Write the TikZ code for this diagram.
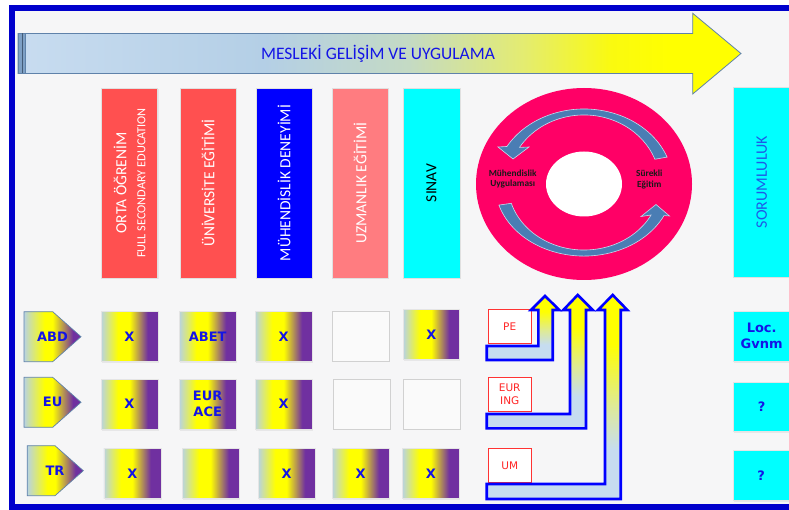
\documentclass[tikz,border=0pt]{standalone}
\usepackage{fontspec}
\setmainfont{Carlito}
\newfontfamily\dvs{DejaVu Sans}
\usetikzlibrary{shapes.geometric,shadows}

\definecolor{framec}{RGB}{0,0,204}
\definecolor{bgc}{RGB}{246,246,247}
\definecolor{ba0}{RGB}{200,220,240}
\definecolor{ba1}{RGB}{180,207,230}
\definecolor{ba2}{RGB}{196,218,196}
\definecolor{ba3}{RGB}{228,236,112}
\definecolor{ba4}{RGB}{250,250,16}
\definecolor{yel}{RGB}{255,255,0}
\definecolor{gl}{RGB}{185,211,224}
\definecolor{gp}{RGB}{112,48,160}
\definecolor{la0}{RGB}{198,220,240}
\definecolor{lam}{RGB}{222,234,150}
\definecolor{redbox}{RGB}{255,80,80}
\definecolor{pinkbox}{RGB}{255,124,128}
\definecolor{cyanc}{RGB}{0,255,255}
\definecolor{donutc}{RGB}{255,0,102}
\definecolor{bandc}{RGB}{74,125,180}
\definecolor{bandedge}{RGB}{200,216,236}
\definecolor{txtblue}{RGB}{20,20,230}
\definecolor{sorc}{RGB}{30,90,230}
\definecolor{arrowedge}{RGB}{95,130,170}
\definecolor{capc}{RGB}{126,160,197}

\pgfdeclarehorizontalshading{bigarrowsh}{100bp}{color(0bp)=(ba0); color(25bp)=(ba0); color(42bp)=(ba1); color(52bp)=(ba2); color(60bp)=(ba3); color(66bp)=(ba4); color(70bp)=(yel); color(100bp)=(yel)}
\pgfdeclarehorizontalshading{cellsh}{100bp}{color(0bp)=(gl); color(25bp)=(gl); color(40bp)=(yel); color(50bp)=(yel); color(66bp)=(gp); color(100bp)=(gp)}
\pgfdeclarehorizontalshading{tagsh}{100bp}{color(0bp)=(gl); color(25bp)=(gl); color(43bp)=(yel); color(50bp)=(yel); color(68bp)=(gp); color(100bp)=(gp)}
\pgfdeclareverticalshading{larrowsh}{100bp}{color(0bp)=(la0); color(25bp)=(la0); color(37bp)=(la0); color(48bp)=(lam); color(63bp)=(yel); color(100bp)=(yel)}

\tikzset{
  shd/.style={drop shadow={opacity=.12,shadow xshift=1pt,shadow yshift=-1.5pt}},
  vbox/.style={rectangle, rotate=90, minimum width=190pt, minimum height=56pt, inner sep=0pt,
    draw=black!12, line width=.5pt, align=center, font=\fontsize{15.5}{18}\selectfont, text=white, shd},
  xcell/.style={rectangle, minimum width=57pt, minimum height=50pt, inner sep=0pt, shade, shading=cellsh,
    draw=black!10, line width=.5pt, align=center, font=\dvs\bfseries\fontsize{13}{16}\selectfont, text=txtblue, shd},
  emptycell/.style={rectangle, minimum width=57pt, minimum height=50pt, inner sep=0pt,
    fill=white!98!black, draw=black!18, line width=.8pt},
  tagtext/.style={font=\dvs\bfseries\fontsize{13}{16}\selectfont, text=txtblue, inner sep=0pt},
  tagshape/.style={shade, shading=tagsh, draw=arrowedge, line width=.7pt},
  certbox/.style={rectangle, minimum width=42.7pt, minimum height=34pt, inner sep=0pt, fill=white,
    draw=red!80!white, line width=.8pt, align=center, text=red!85!white, font=\dvs\fontsize{10.5}{13}\selectfont},
  cyanbox/.style={rectangle, minimum width=56.7pt, minimum height=49.5pt, inner sep=0pt, fill=cyanc,
    draw=black!10, align=center, font=\dvs\bfseries\fontsize{13}{16}\selectfont, text=txtblue, shd},
  larrow/.style={shade, shading=larrowsh, draw=blue, line width=2.6pt, line join=miter},
  dlabel/.style={font=\bfseries\fontsize{9.3}{10.5}\selectfont, text=black!90, align=center, inner sep=0pt},
  band/.style={fill=bandc, draw=bandedge, line width=.6pt}
}

\begin{document}
\begin{tikzpicture}[x=1pt,y=-1pt]
\useasboundingbox (0,0) rectangle (789,510);
\clip (0,0) rectangle (789,510);
\fill[white] (0,0) rectangle (789,510);
% frame
\fill[bgc] (12,8) rectangle (830,507);
\draw[line width=6pt, framec] (12,8) rectangle (830,507);

% big arrow
\path[shade, shading=bigarrowsh, draw=arrowedge, line width=.8pt, line join=miter]
  (18,33.5) -- (692.7,33.5) -- (692.7,13.3) -- (741,53.5) -- (692.7,94) -- (692.7,73.5) -- (18,73.5) -- cycle;
\fill[capc] (18,33.5) rectangle (25,73.5);
\draw[arrowedge, line width=.8pt] (18,33.5) rectangle (25,73.5);
\draw[arrowedge!70!black, line width=.5pt] (22,33.5) -- (22,73.5);
\node[font=\fontsize{17.5}{20}\selectfont, text=txtblue] (title) at (378,53.5) {MESLEKİ GELİŞİM VE UYGULAMA};

% vertical boxes
\node[vbox, fill=redbox] (b1) at (129.7,183) {ORTA ÖĞRENİM\\[1pt]{\fontsize{12.3}{14}\selectfont FULL SECONDARY EDUCATION}};
\node[vbox, fill=redbox] (b2) at (208,183) {ÜNİVERSİTE EĞİTİMİ};
\node[vbox, fill=blue] (b3) at (284,183) {MÜHENDİSLİK DENEYİMİ};
\node[vbox, fill=pinkbox] (b4) at (360,183) {UZMANLIK EĞİTİMİ};
\node[vbox, fill=cyanc, text=black, minimum height=57pt] (b5) at (431.5,183) {SINAV};
\node[vbox, fill=cyanc, text=sorc, minimum height=56.7pt, font=\fontsize{16}{18}\selectfont] (b6) at (761.7,182) {SORUMLULUK};

% donut
\node[ellipse, minimum width=216pt, minimum height=192pt, inner sep=0pt, fill=donutc] (donut) at (584,184) {};
\node[ellipse, minimum width=76pt, minimum height=65pt, inner sep=0pt, fill=white] (hole) at (584,184) {};
\path[band] (667.1,157.1) arc[start angle=21, end angle=150, x radius=89pt, y radius=75pt]
  -- (498,147) -- (513,159) -- (529,147) -- (519.5,147.4)
  arc[start angle=148, end angle=21, x radius=76pt, y radius=69pt] -- cycle;
\path[band] (498.9,205.1) arc[start angle=197, end angle=334, x radius=89pt, y radius=72pt]
  -- (669.5,216) -- (656,204.5) -- (641,216.5) -- (651.1,215.0)
  arc[start angle=332, end angle=197, x radius=76pt, y radius=66pt] -- cycle;
\node[dlabel] (mu) at (512.7,179) {Mühendislik\\Uygulaması};
\node[dlabel] (se) at (649.3,179.5) {Sürekli\\Eğitim};

% row tags
\path[tagshape] (24,311.7) -- (52.7,311.7) -- (81,336.7) -- (52.7,361.7) -- (24,361.7) -- cycle;
\node[tagtext] (abd) at (52.5,336.7) {ABD};
\path[tagshape] (24,377.3) -- (52.7,377.3) -- (81,402.3) -- (52.7,427.3) -- (24,427.3) -- cycle;
\node[tagtext] (eu) at (52.7,402.3) {EU};
\path[tagshape] (27.3,445.7) -- (55,445.7) -- (83.3,470.7) -- (55,495.7) -- (27.3,495.7) -- cycle;
\node[tagtext] (tr) at (55,471.2) {TR};

% row ABD
\node[xcell] (a1) at (129.5,336.7) {X};
\node[xcell] (a2) at (207.7,336.7) {ABET};
\node[xcell] (a3) at (283.7,336.7) {X};
\node[emptycell] (a4) at (361,336.7) {};
\node[xcell, minimum width=56pt] (a5) at (431.3,334.3) {X};
% row EU
\node[xcell] (e1) at (129.5,404) {X};
\node[xcell] (e2) at (207.7,404) {EUR\\ACE};
\node[xcell] (e3) at (283.7,404) {X};
\node[emptycell] (e4) at (362.3,404) {};
\node[emptycell] (e5) at (431.8,404) {};
% row TR
\node[xcell] (t1) at (132.3,473.3) {X};
\node[xcell] (t2) at (210.5,473.3) {};
\node[xcell] (t3) at (286.7,473.3) {X};
\node[xcell] (t4) at (360.7,473.3) {X};
\node[xcell] (t5) at (430.8,473.3) {X};

% certificates
\node[certbox] (pe) at (509.7,326.3) {PE};
\node[certbox] (euring) at (509.7,394.5) {EUR\\ING};
\node[certbox] (um) at (509.7,465.3) {UM};

% bent arrows
\path[larrow] (486.7,346) -- (538.3,346) -- (538.3,310) -- (531,310) -- (545,296) -- (559.3,310)
  -- (552.7,310) -- (552.7,360) -- (486.7,360) -- cycle;
\path[larrow] (486.7,414) -- (570,414) -- (570,310) -- (563.3,310) -- (577.7,295) -- (592.7,310)
  -- (586,310) -- (586,428.3) -- (486.7,428.3) -- cycle;
\path[larrow] (486.7,484) -- (605,484) -- (605,310) -- (598,310) -- (612.7,295) -- (627.3,310)
  -- (620.7,310) -- (620.7,499) -- (486.7,499) -- cycle;

% responsibility boxes
\node[cyanbox] (loc) at (761.7,336.3) {Loc.\\Gvnm};
\node[cyanbox] (q1) at (761.7,406.7) {?};
\node[cyanbox] (q2) at (761.2,475.3) {?};
\end{tikzpicture}
\end{document}
